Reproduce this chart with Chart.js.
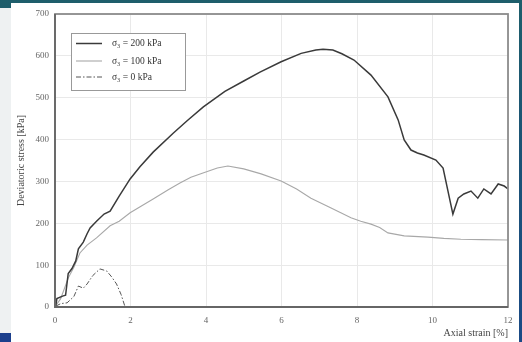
<!DOCTYPE html>
<html>
<head>
<meta charset="utf-8">
<script src="https://cdn.jsdelivr.net/npm/chart.js@4"></script>
<style>
  html, body {
    margin: 0;
    padding: 0;
    width: 522px;
    height: 342px;
    overflow: hidden;
    background: linear-gradient(to bottom, #1e5e6b 0%, #1b5277 50%, #1a4a86 100%);
    position: relative;
  }
  .panel { position: absolute; left: 11px; top: 3px; width: 508px; height: 339px; background: #fff; }
  .strip { position: absolute; left: 0; top: 8px; width: 11px; height: 325px; background: #eef1f2; }
  .corner { position: absolute; left: 0; top: 333px; width: 11px; height: 9px; background: #1b3f8c; }
  canvas { position: absolute; left: 0; top: 0; }
</style>
</head>
<body>
<div class="panel"></div>
<div class="strip"></div>
<div class="corner"></div>
<canvas id="chart" width="522" height="342"></canvas>
<script>
// sigma3 = 200 kPa
const strain200 = [0.02, 0.05, 0.2, 0.28, 0.35, 0.45, 0.55, 0.62, 0.75, 0.85, 0.93, 1.1, 1.3, 1.46, 1.7, 1.99, 2.25, 2.6, 3.13, 3.5, 3.93, 4.5, 5.0, 5.43, 5.99, 6.52, 6.91, 7.1, 7.36, 7.6, 7.92, 8.37, 8.82, 9.09, 9.25, 9.43, 9.6, 9.77, 10.09, 10.28, 10.41, 10.54, 10.68, 10.83, 11.02, 11.2, 11.36, 11.55, 11.74, 11.9, 12];
const stress200 = [2, 20, 26, 28, 80, 92, 110, 139, 155, 175, 189, 205, 222, 229, 265, 306, 335, 370, 415, 445, 478, 515, 540, 561, 586, 606, 614, 616, 614, 605, 590, 554, 502, 447, 399, 375, 368, 363, 351, 332, 277, 222, 260, 270, 277, 260, 282, 270, 294, 289, 282];

// sigma3 = 100 kPa
const strain100 = [0.02, 0.15, 0.35, 0.5, 0.66, 0.85, 1.1, 1.46, 1.7, 1.99, 2.3, 2.6, 3.0, 3.31, 3.6, 3.92, 4.3, 4.58, 5.0, 5.46, 5.99, 6.4, 6.78, 7.3, 7.84, 8.1, 8.37, 8.6, 8.82, 9.25, 9.88, 10.3, 10.75, 11.3, 12];
const stress100 = [3, 20, 69, 95, 129, 148, 165, 194, 205, 225, 242, 258, 280, 296, 310, 320, 332, 337, 330, 318, 301, 282, 260, 237, 213, 205, 198, 190, 177, 170, 167, 164, 162, 161, 160];

// sigma3 = 0 kPa
const strain0 = [0.02, 0.15, 0.32, 0.5, 0.62, 0.75, 0.85, 1.0, 1.19, 1.37, 1.5, 1.63, 1.75, 1.85];
const stress0 = [2, 8, 10, 25, 50, 45, 55, 75, 91, 86, 72, 55, 30, 2];

const seriesLabels = ["σ₃ = 200 kPa", "σ₃ = 100 kPa", "σ₃ = 0 kPa"];
const xTicks = [0, 2, 4, 6, 8, 10, 12];
const yTicks = [0, 100, 200, 300, 400, 500, 600, 700];

const toPoints = (xs, ys) => xs.map((x, i) => ({ x: x, y: ys[i] }));
const serif = "'Liberation Serif', 'DejaVu Serif', serif";

// box round the plot area
const frame = {
  id: "frame",
  afterDatasetsDraw(chart) {
    const { ctx, chartArea: a } = chart;
    ctx.save();
    ctx.strokeStyle = "#8c8c8c";
    ctx.lineWidth = 1.8;
    ctx.strokeRect(a.left, a.top, a.right - a.left, a.bottom - a.top);
    ctx.strokeStyle = "#666";
    ctx.beginPath();
    ctx.moveTo(a.left, a.top);
    ctx.lineTo(a.left, a.bottom);
    ctx.lineTo(a.right, a.bottom);
    ctx.stroke();
    ctx.restore();
  },
};

// legend box inside the plot
const boxLegend = {
  id: "boxLegend",
  afterDraw(chart) {
    const { ctx } = chart;
    const x0 = 71, y0 = 33, w = 114, h = 57;
    ctx.save();
    ctx.fillStyle = "#fff";
    ctx.fillRect(x0, y0, w, h);
    ctx.strokeStyle = "#999";
    ctx.lineWidth = 1;
    ctx.strokeRect(x0 + 0.5, y0 + 0.5, w, h);
    const rows = [43.5, 61, 77];
    chart.data.datasets.forEach((ds, i) => {
      const y = rows[i];
      ctx.strokeStyle = ds.borderColor;
      ctx.lineWidth = ds.borderWidth;
      ctx.setLineDash(ds.borderDash || []);
      ctx.beginPath();
      ctx.moveTo(76, y);
      ctx.lineTo(102, y);
      ctx.stroke();
      ctx.setLineDash([]);
      ctx.fillStyle = "#333";
      ctx.font = "9.5px " + serif;
      ctx.textBaseline = "middle";
      ctx.fillText(ds.label, 112, y);
    });
    ctx.restore();
  },
};

new Chart(document.getElementById("chart"), {
  type: "scatter",
  data: {
    datasets: [
      {
        label: seriesLabels[0],
        data: toPoints(strain200, stress200),
        borderColor: "#3a3a3a",
        borderWidth: 1.5,
        showLine: true,
        pointRadius: 0,
      },
      {
        label: seriesLabels[1],
        data: toPoints(strain100, stress100),
        borderColor: "#a8a8a8",
        borderWidth: 1.1,
        showLine: true,
        pointRadius: 0,
      },
      {
        label: seriesLabels[2],
        data: toPoints(strain0, stress0),
        borderColor: "#555",
        borderWidth: 1,
        borderDash: [5, 2, 1.5, 2],
        showLine: true,
        pointRadius: 0,
      },
    ],
  },
  options: {
    responsive: false,
    animation: false,
    layout: { padding: { top: 14, right: 14, left: 0, bottom: 0 } },
    plugins: { legend: { display: false }, tooltip: { enabled: false } },
    scales: {
      x: {
        type: "linear",
        min: 0,
        max: 12,
        afterBuildTicks: (s) => { s.ticks = xTicks.map((v) => ({ value: v })); },
        afterFit: (s) => { s.height = 35; },
        ticks: { color: "#666", font: { family: serif, size: 9 }, padding: 8 },
        grid: { color: "#e9e9e9", drawTicks: false },
        border: { display: false },
        title: {
          display: true,
          text: "Axial strain [%]",
          align: "end",
          color: "#444",
          font: { family: serif, size: 10 },
          padding: { top: 0, bottom: 3 },
        },
      },
      y: {
        min: 0,
        max: 700,
        afterBuildTicks: (s) => { s.ticks = yTicks.map((v) => ({ value: v })); },
        afterFit: (s) => { s.width = 55; },
        ticks: { color: "#666", font: { family: serif, size: 9 }, padding: 6 },
        grid: { color: "#e9e9e9", drawTicks: false },
        border: { display: false },
        title: {
          display: true,
          text: "Deviatoric stress [kPa]",
          color: "#444",
          font: { family: serif, size: 10 },
          padding: { top: 15, bottom: 0 },
        },
      },
    },
  },
  plugins: [frame, boxLegend],
});
</script>
</body>
</html>
